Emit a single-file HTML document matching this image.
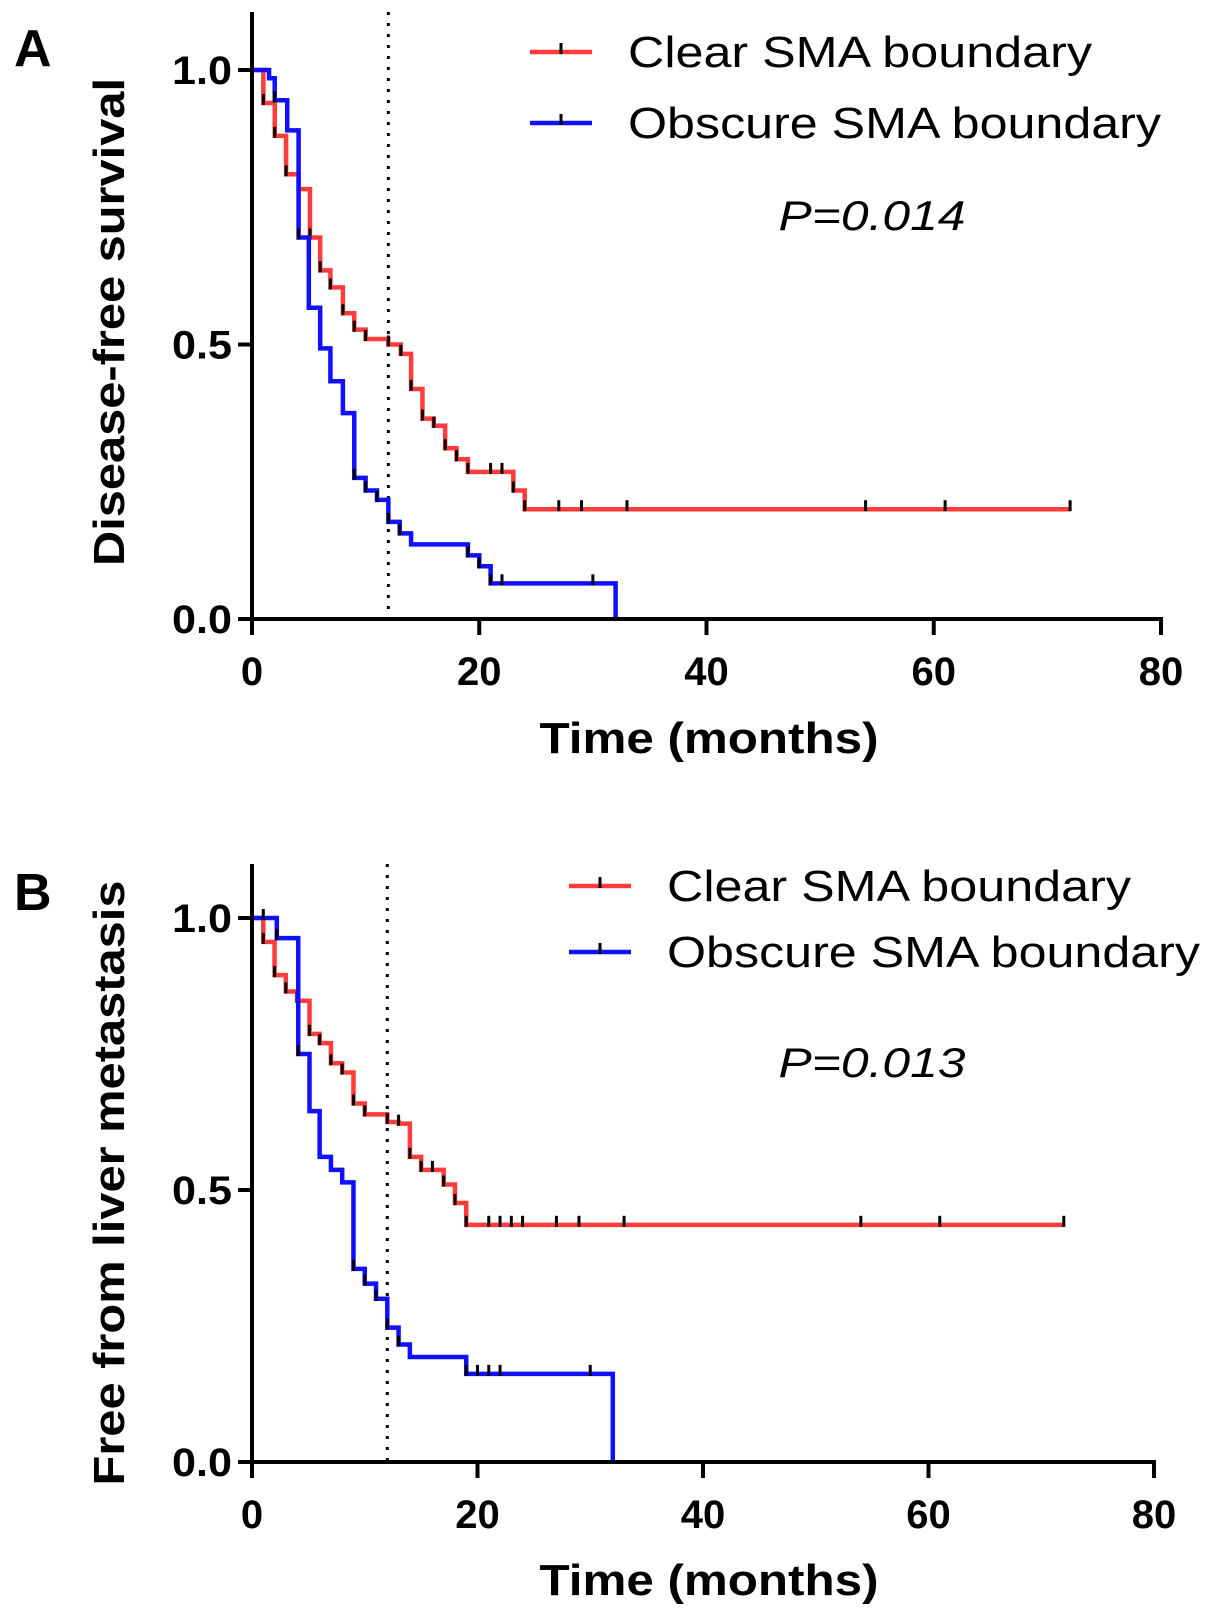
<!DOCTYPE html>
<html><head><meta charset="utf-8"><style>
html,body{margin:0;padding:0;background:#fff;}
svg{display:block;font-family:"Liberation Sans",Arial,sans-serif;}
</style></head><body>
<svg id="fig" width="1205" height="1620" viewBox="0 0 1205 1620" xmlns="http://www.w3.org/2000/svg"></svg>
<script>
// Panel A data: Disease-free survival
const aRedTimes = [1, 2, 3, 4.1, 5.1, 6, 6.9, 8, 9, 10, 12, 13.1, 14, 15, 16, 17, 18, 19, 23, 24];
const aRedSurv  = [0.94, 0.88, 0.81, 0.783, 0.695, 0.635, 0.604, 0.557, 0.527, 0.51, 0.5, 0.483, 0.419, 0.365, 0.352, 0.311, 0.291, 0.268, 0.234, 0.2];
const aRedEnd = 72;
const aRedCensor = [1, 2, 3, 4.1, 5.1, 6, 6.9, 8, 9, 10, 12, 13.1, 14, 15, 16, 17, 18, 19, 21, 22, 23, 24, 27, 29, 33, 54, 61, 72];
const aBlueTimes = [1.5, 2, 3.1, 4.1, 5, 6, 6.9, 8, 9, 10, 11, 12, 13, 14, 19, 20, 21, 32];
const aBlueSurv  = [0.985, 0.945, 0.89, 0.695, 0.567, 0.493, 0.433, 0.375, 0.257, 0.234, 0.217, 0.177, 0.156, 0.136, 0.116, 0.096, 0.065, 0];
const aBlueEnd = 32;
const aBlueCensor = [2, 4.1, 9, 10, 11, 12, 13, 19, 20, 21, 22, 30];
// Panel B data: Free from liver metastasis
const bRedTimes = [1, 2, 3, 4, 5.1, 6, 7, 8, 9, 10, 12, 13, 14, 15, 17, 18, 19];
const bRedSurv  = [0.956, 0.895, 0.865, 0.848, 0.787, 0.77, 0.733, 0.716, 0.659, 0.639, 0.625, 0.622, 0.561, 0.537, 0.51, 0.476, 0.436];
const bRedEnd = 72;
const bRedCensor = [1, 2, 3, 4, 5.1, 6, 7, 8, 9, 10, 12, 13, 14, 15, 16, 17, 18, 19, 21, 22, 23, 24, 27, 29, 33, 54, 61, 72];
const bBlueTimes = [2.2, 4.1, 5.1, 6, 7, 8, 9, 10, 11, 12, 13, 14, 19, 32];
const bBlueSurv  = [0.963, 0.75, 0.645, 0.561, 0.537, 0.514, 0.355, 0.328, 0.3, 0.247, 0.216, 0.193, 0.162, 0];
const bBlueEnd = 32;
const bBlueCensor = [1, 2.2, 4.1, 9, 10, 11, 12, 13, 19, 20, 21, 22, 30];
const xTicks = [0, 20, 40, 60, 80];
const yTicks = [0, 0.5, 1.0];
const yTickLabels = ["0.0", "0.5", "1.0"];

const NS = "http://www.w3.org/2000/svg";
const svg = document.getElementById('fig');
function mk(tag, attrs, parent){
  const e = document.createElementNS(NS, tag);
  for (const k in attrs) e.setAttribute(k, attrs[k]);
  (parent||svg).appendChild(e);
  return e;
}
function txt(str, attrs, parent){ const t = mk('text', attrs, parent); t.textContent = str; return t; }

function panel(cfg){
  const g = mk('g', {});
  
  
  const x = v => cfg.x0 + (v/80)*(cfg.x80 - cfg.x0);
  const y = v => cfg.y0 + v*(cfg.y1 - cfg.y0);
  const dl = mk('line', {x1:x(12), x2:x(12), y1:cfg.top, y2:y(0), stroke:'#000','stroke-width':3,'stroke-dasharray':'3 8'}, g);
  
  
  function curve(times, surv, end, censor, color, nm){
    let d = `M${x(0)},${y(1)}`; let cur = 1;
    for (let i=0;i<times.length;i++){ d += ` H${x(times[i])} V${y(surv[i])}`; cur = surv[i]; }
    if (cur > 0) d += ` H${x(end)}`;
    const p = mk('path', {d, fill:'none', stroke:color, 'stroke-width':4.5}, g);
    
    
    function survAt(t){ let s=1; for (let i=0;i<times.length;i++){ if (times[i] <= t) s = surv[i]; } return s; }
    censor.forEach(c => {
      const s = survAt(c);
      const tk = mk('line', {x1:x(c), x2:x(c), y1:y(s)-9, y2:y(s)+2, stroke:'#000','stroke-width':3}, g);
      
      
    });
  }
  curve(cfg.redT, cfg.redS, cfg.redE, cfg.redC, '#ff3b3b', 'clear-sma');
  curve(cfg.blueT, cfg.blueS, cfg.blueE, cfg.blueC, '#1010ff', 'obscure-sma');
  const ya = mk('line', {x1:x(0), x2:x(0), y1:cfg.top, y2:y(0)+2, stroke:'#000','stroke-width':4}, g);
   
  const xa = mk('line', {x1:x(0)-14, x2:x(80)+2, y1:y(0), y2:y(0), stroke:'#000','stroke-width':4}, g);
   
  xTicks.forEach(v => {
    mk('line', {x1:x(v), x2:x(v), y1:y(0), y2:y(0)+16, stroke:'#000','stroke-width':4}, g);
    const t = txt(String(v), {x:x(v), y:y(0)+66, 'text-anchor':'middle','font-size':40,'font-weight':'bold'}, g);
     
  });
  yTicks.forEach((v,i) => {
    mk('line', {x1:x(0)-14, x2:x(0), y1:y(v), y2:y(v), stroke:'#000','stroke-width':4}, g);
    const t = txt(yTickLabels[i], {x:x(0)-20, y:y(v)+14, 'text-anchor':'end','font-size':40,'font-weight':'bold', textLength:60, lengthAdjust:'spacingAndGlyphs'}, g);
     
  });
  const xt = txt('Time (months)', {x:709, y:cfg.xTitleY, 'text-anchor':'middle','font-size':44,'font-weight':'bold', textLength:339, lengthAdjust:'spacingAndGlyphs'}, g);
   
  const yt = txt(cfg.yTitle, {x:0, y:0, 'text-anchor':'middle','font-size':44,'font-weight':'bold', textLength:cfg.yTitleLen, lengthAdjust:'spacingAndGlyphs', transform:`translate(124,${cfg.yTitleC}) rotate(-90)`}, g);
   
  const pl = txt(cfg.letter, {x:14, y:cfg.letterY, 'font-size':52,'font-weight':'bold'}, g);
   
  [['Clear SMA boundary','#ff3b3b',cfg.legY1,464],['Obscure SMA boundary','#1010ff',cfg.legY2,533]].forEach(([lab,col,ly,len]) => {
    const le = mk('g', {}, g);
     
    mk('line', {x1:cfg.legX, x2:cfg.legX+62, y1:ly, y2:ly, stroke:col,'stroke-width':4.5}, le);
    mk('line', {x1:cfg.legX+31, x2:cfg.legX+31, y1:ly-9, y2:ly+2, stroke:'#000','stroke-width':3}, le);
    txt(lab, {x:cfg.legX+98, y:ly+15, 'font-size':44, textLength:len, lengthAdjust:'spacingAndGlyphs'}, le);
  });
  const pv = txt(cfg.pval, {x:872, y:cfg.pY, 'text-anchor':'middle','font-size':42,'font-style':'italic', textLength:187, lengthAdjust:'spacingAndGlyphs'}, g);
   
}

panel({name:'panel-a', letter:'A', letterY:66, x0:252, x80:1161, y0:619, y1:70, top:12,
  redT:aRedTimes, redS:aRedSurv, redE:aRedEnd, redC:aRedCensor,
  blueT:aBlueTimes, blueS:aBlueSurv, blueE:aBlueEnd, blueC:aBlueCensor,
  xTitleY:753, yTitle:'Disease-free survival', yTitleLen:488, yTitleC:322,
  legX:530, legY1:52, legY2:123, pval:'P=0.014', pY:230});
panel({name:'panel-b', letter:'B', letterY:910, x0:252, x80:1154, y0:1462, y1:918, top:864,
  redT:bRedTimes, redS:bRedSurv, redE:bRedEnd, redC:bRedCensor,
  blueT:bBlueTimes, blueS:bBlueSurv, blueE:bBlueEnd, blueC:bBlueCensor,
  xTitleY:1595, yTitle:'Free from liver metastasis', yTitleLen:605, yTitleC:1183,
  legX:569, legY1:886, legY2:952, pval:'P=0.013', pY:1077});
</script>
</body></html>
